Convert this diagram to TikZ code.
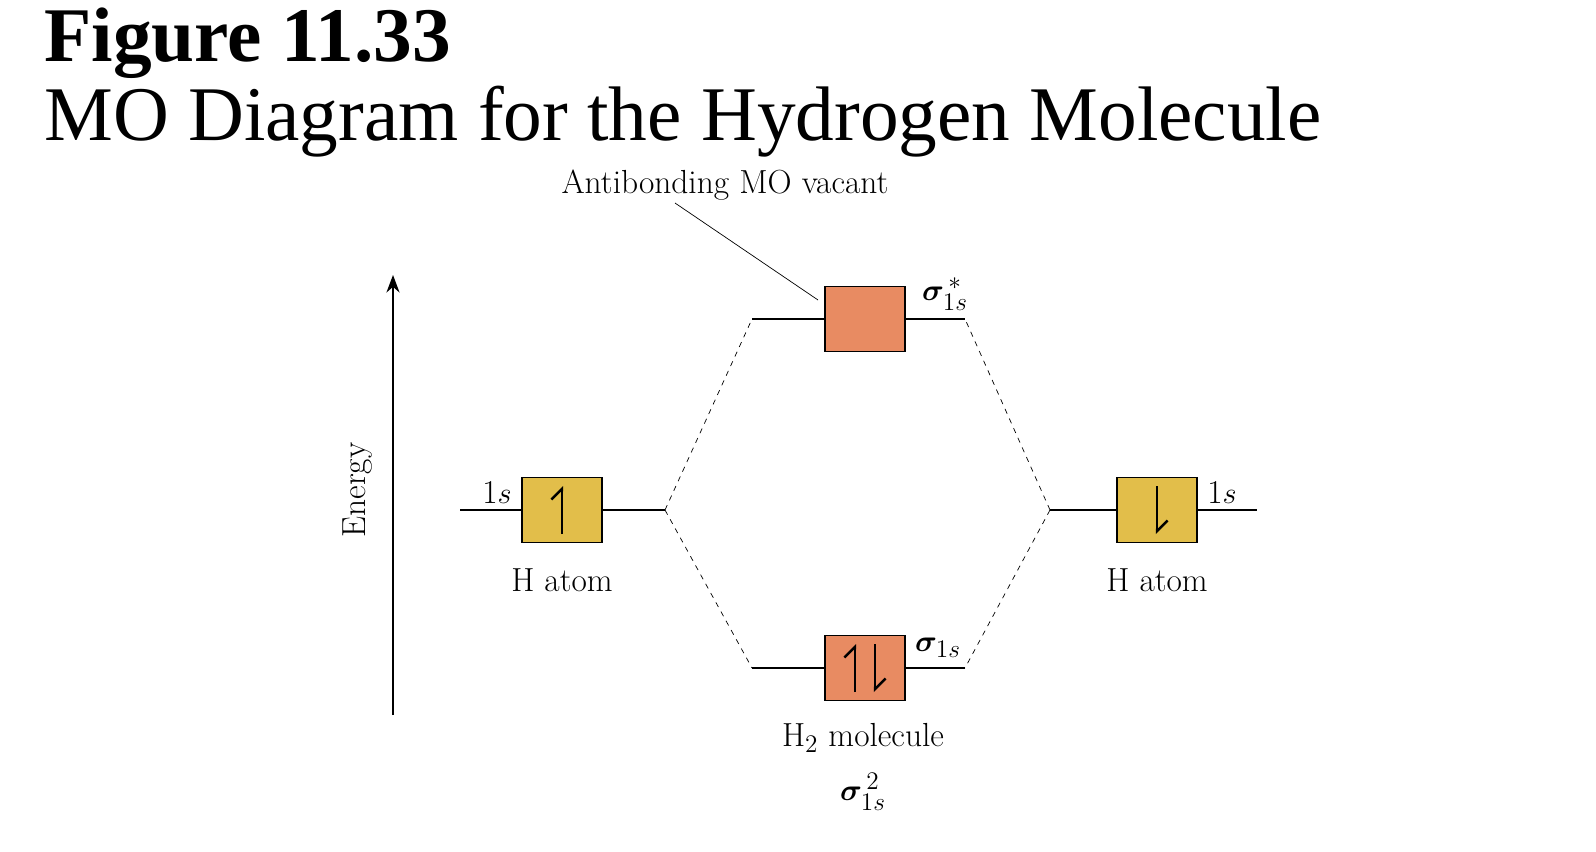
\documentclass[tikz,border=0pt]{standalone}
\usepackage{amsmath}
\usepackage{bm}
\usepackage{fontspec}
\newfontfamily\titlefont{Liberation Serif}
\usetikzlibrary{arrows.meta, positioning, calc}
\definecolor{atomYellow}{RGB}{226, 190, 74}
\definecolor{moOrange}{RGB}{232, 139, 98}
\tikzset{
  orb/.style={draw, thick, minimum width=1.6cm, minimum height=1.3cm, inner sep=0pt},
  lvl/.style={thick},
  corr/.style={dashed, thin},
  lbl/.style={font=\fontsize{19}{22}\selectfont},
  spin/.style={thick, line width=1.4pt}
}
\begin{document}
\begin{tikzpicture}[x=0.02cm, y=-0.02cm]
\useasboundingbox (0,0) rectangle (1596,852);
% title
\node[anchor=north west, inner sep=0pt, font=\titlefont\bfseries\fontsize{44}{48}\selectfont] (fig) at (44,8) {Figure 11.33};
\node[anchor=north west, inner sep=0pt, font=\titlefont\fontsize{44}{48}\selectfont] (ttl) at (44,86) {MO Diagram for the Hydrogen Molecule};
% energy axis
\coordinate (ebot) at (393,715);
\coordinate (etop) at (393,275);
\draw[thick, -{Stealth[length=10pt]}] (ebot) -- (etop);
\node[lbl, rotate=90] (energy) at (358,490) {Energy};
% atomic orbitals
\node[orb, fill=atomYellow] (hl) at (562,510) {};
\node[orb, fill=atomYellow] (hr) at (1157,510) {};
\coordinate (hlA) at (460,510);
\coordinate (hlB) at (665,510);
\coordinate (hrA) at (1050,510);
\coordinate (hrB) at (1257,510);
\draw[lvl] (hlA) -- (hl.west) (hl.east) -- (hlB);
\draw[lvl] (hrA) -- (hr.west) (hr.east) -- (hrB);
\draw[spin, -{Straight Barb[left,length=6pt]}] ($(hl)+(0,24)$) -- ($(hl)+(0,-24)$);
\draw[spin, -{Straight Barb[left,length=6pt]}] ($(hr)+(0,-24)$) -- ($(hr)+(0,24)$);
\node[lbl] (sl) at (497,492) {1$s$};
\node[lbl] (sr) at (1222,492) {1$s$};
\node[lbl] (al) at (562,580) {H atom};
\node[lbl] (ar) at (1157,580) {H atom};
% molecular orbitals
\node[orb, fill=moOrange] (anti) at (865,319) {};
\node[orb, fill=moOrange] (bond) at (865,668) {};
\coordinate (aA) at (752,319);
\coordinate (aB) at (965,319);
\coordinate (bA) at (752,668);
\coordinate (bB) at (965,668);
\draw[lvl] (aA) -- (anti.west) (anti.east) -- (aB);
\draw[lvl] (bA) -- (bond.west) (bond.east) -- (bB);
\draw[spin, -{Straight Barb[left,length=6pt]}] ($(bond)+(-10,24)$) -- ($(bond)+(-10,-24)$);
\draw[spin, -{Straight Barb[left,length=6pt]}] ($(bond)+(10,-24)$) -- ($(bond)+(10,24)$);
\node[lbl] (sa) at (945,294) {$\bm{\sigma}^{\,*}_{1s}$};
\node[lbl] (sb) at (938,648) {$\bm{\sigma}_{1s}$};
\node[lbl] (mol) at (863,738) {H$_2$ molecule};
\node[lbl] (conf) at (863,792) {$\bm{\sigma}^{\,2}_{1s}$};
% correlation lines
\draw[corr] (hlB) -- (aA);
\draw[corr] (hlB) -- (bA);
\draw[corr] (hrA) -- (aB);
\draw[corr] (hrA) -- (bB);
% callout
\node[lbl] (vac) at (725,185) {Antibonding MO vacant};
\coordinate (tip) at (818,300);
\draw[thin] (675,203) -- (tip);
\end{tikzpicture}
\end{document}
